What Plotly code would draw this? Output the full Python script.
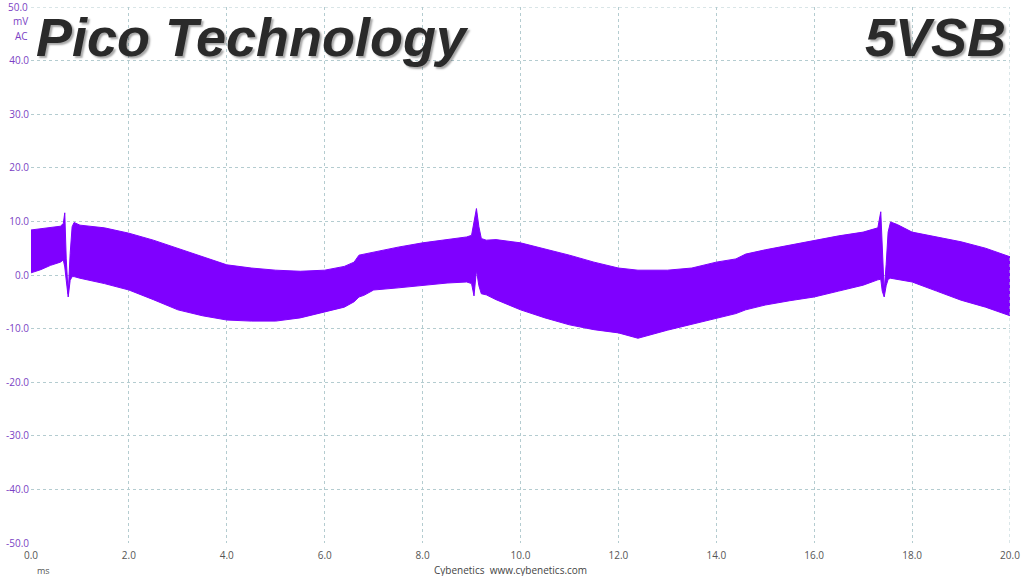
import plotly.graph_objects as go

# Envelope of the ripple waveform (time in ms, voltage in mV)
t_ms = [0.0, 0.2, 0.4, 0.6, 0.66, 0.69, 0.72, 0.76, 0.80, 0.84, 0.88, 1.0, 1.5, 2.0, 2.5,
        3.0, 3.5, 4.0, 4.5, 5.0, 5.5, 6.0, 6.4, 6.6, 6.7, 6.8, 7.0, 7.5, 8.0, 8.5,
        8.9, 9.0, 9.05, 9.1, 9.15, 9.2, 9.3, 9.5, 10.0, 10.5, 11.0, 11.5, 12.0, 12.4,
        13.0, 13.5, 14.0, 14.4, 14.6, 15.0, 15.5, 16.0, 16.5, 17.0, 17.3, 17.36, 17.39,
        17.43, 17.47, 17.51, 17.56, 17.7, 18.0, 18.5, 19.0, 19.5, 20.0]
upper_mV = [8.4, 8.6, 8.9, 9.1, 9.6, 11.6, 3.0, -3.5, 4.0, 9.0, 9.8, 9.3, 8.8, 7.8, 6.5,
            5.0, 3.5, 1.9, 1.3, 0.9, 0.7, 0.9, 1.6, 2.4, 3.7, 3.9, 4.3, 5.2, 6.0, 6.6,
            7.1, 7.4, 10.0, 12.4, 9.0, 6.8, 6.5, 6.6, 6.0, 4.9, 3.7, 2.4, 1.3, 0.9,
            0.9, 1.3, 2.4, 3.0, 3.9, 4.7, 5.6, 6.5, 7.3, 8.0, 8.8, 11.8, 4.0,
            -3.0, 2.0, 8.0, 9.9, 9.4, 8.0, 7.1, 6.2, 5.0, 3.4]
lower_mV = [0.4, 1.0, 1.8, 2.4, 2.8, 1.5, -1.0, -4.1, -1.0, -0.3, -0.3, -0.6, -1.6, -2.8, -4.6,
            -6.5, -7.6, -8.4, -8.6, -8.6, -8.0, -6.9, -6.0, -5.0, -4.1, -3.8, -2.8, -2.4, -1.9, -1.5,
            -1.3, -1.6, -3.9, 0.9, -2.0, -3.5, -3.7, -4.6, -6.5, -8.0, -9.3, -10.2, -10.8, -11.8,
            -10.3, -9.2, -8.0, -7.2, -6.5, -5.6, -4.8, -4.1, -3.0, -1.9, -0.9, -0.8, -3.0,
            -4.1, -2.0, -0.8, -0.6, -0.8, -1.3, -3.0, -4.7, -6.0, -7.6]

x_ticks = [0, 2, 4, 6, 8, 10, 12, 14, 16, 18, 20]
y_ticks = [-50, -40, -30, -20, -10, 0, 10, 20, 30, 40]

violet = "#7f00ff"
grid = "#b4ccd0"

fig = go.Figure()
fig.add_trace(go.Scatter(x=t_ms, y=lower_mV, mode="lines",
                         line=dict(color=violet, width=1), hoverinfo="skip"))
fig.add_trace(go.Scatter(x=t_ms, y=upper_mV, mode="lines", fill="tonexty",
                         fillcolor=violet, line=dict(color=violet, width=1), hoverinfo="skip"))

fig.update_layout(
    width=1024, height=576,
    margin=dict(l=31, r=14, t=7, b=33, pad=0, autoexpand=False),
    paper_bgcolor="white", plot_bgcolor="white",
    showlegend=False,
    font=dict(family="Open Sans, DejaVu Sans, sans-serif", size=10),
    xaxis=dict(range=[0, 20], tickvals=x_ticks, ticktext=[f"{v:.1f}" for v in x_ticks],
               showgrid=True, gridcolor=grid, griddash="dot", gridwidth=1,
               zeroline=False, showline=False, ticks="", automargin=False,
               tickfont=dict(color="#555555", size=10), ticklabelstandoff=5),
    yaxis=dict(range=[-50, 50], tickvals=y_ticks, ticktext=[f"{v:.1f}" for v in y_ticks],
               showgrid=True, gridcolor=grid, griddash="dot", gridwidth=1,
               zeroline=False, showline=False, ticks="", automargin=False,
               tickfont=dict(color="#7b3fc4", size=10), ticklabelstandoff=1),
)

# top horizontal and right vertical dashed borders
fig.add_shape(type="line", xref="paper", yref="y", x0=0, x1=1, y0=50, y1=50,
              line=dict(color=grid, width=1, dash="dot"))
fig.add_shape(type="line", xref="x", yref="paper", x0=20, x1=20, y0=0, y1=1,
              line=dict(color=grid, width=1, dash="dot"))

# y axis unit labels at top-left
for txt, ypx in [("50.0", 7), ("mV", 21), ("AC", 36)]:
    fig.add_annotation(text=txt, xref="paper", yref="paper", x=-0.001,
                       y=1 - (ypx - 7) / 536, xanchor="right", yanchor="middle",
                       showarrow=False, font=dict(color="#7b3fc4", size=10))

fig.add_annotation(text="ms", xref="paper", yref="paper", x=4 / 979, y=-(570 - 543) / 536,
                   xanchor="left", yanchor="middle", showarrow=False,
                   font=dict(color="#555555", size=9))
fig.add_annotation(text="Cybenetics&nbsp;&nbsp;www.cybenetics.com", xref="paper", yref="paper",
                   x=(510 - 31) / 979, y=-(570 - 543) / 536, xanchor="center", yanchor="middle",
                   showarrow=False, font=dict(color="#444444", size=10))

title_font = dict(family="Liberation Sans, Arial, sans-serif", size=54, color="#2a2a2a",
                  weight="bold", style="italic", shadow="2px 2px 2px rgba(0,0,0,0.35)")
fig.add_annotation(text="Pico Technology", xref="paper", yref="paper",
                   x=(34 - 31) / 979, y=1 + 2 / 536, xanchor="left", yanchor="top",
                   showarrow=False, font=title_font)
fig.add_annotation(text="5VSB", xref="paper", yref="paper",
                   x=(1008 - 31) / 979, y=1 + 2 / 536, xanchor="right", yanchor="top",
                   showarrow=False, font=title_font)

fig.write_html("out.html", config={"displayModeBar": False},
               post_script="document.body.style.margin='0';document.body.style.overflow='hidden';")
